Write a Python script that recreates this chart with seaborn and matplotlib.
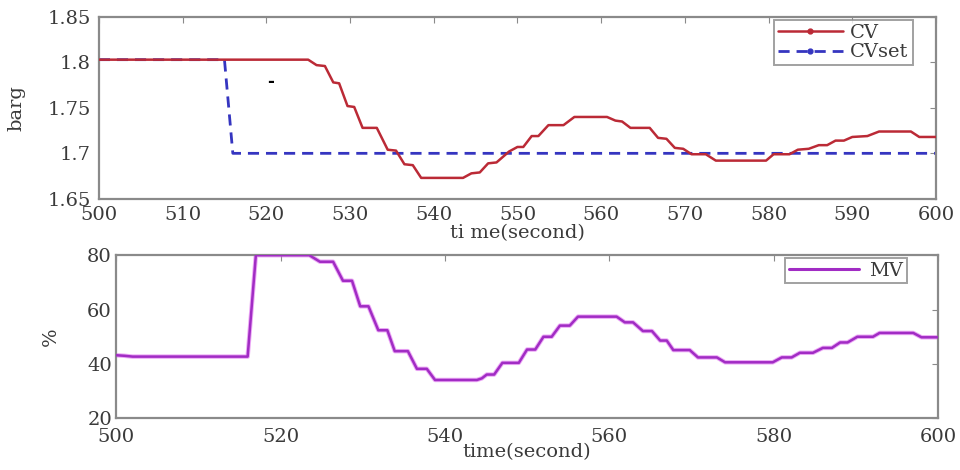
import matplotlib
matplotlib.use("Agg")
import matplotlib.pyplot as plt
import seaborn as sns
import pandas as pd
from matplotlib.lines import Line2D

# ---- data ----
cv_time = [500, 525, 526, 527, 528, 528.7, 529.7, 530.5, 531.5, 533.2, 534.5, 535.5,
           536.5, 537.5, 538.5, 543.5, 544.5, 545.5, 546.5, 547.5, 549, 550, 550.7,
           551.7, 552.5, 553.7, 555.5, 556.8, 560.7, 561.7, 562.5, 563.5, 565.8, 566.8,
           567.8, 568.8, 569.8, 570.8, 572.5, 573.7, 579.7, 580.6, 582.5, 583.5, 584.8,
           586, 587, 588, 589, 590, 591.8, 593.2, 597, 598, 600]
cv_value = [1.803, 1.803, 1.797, 1.796, 1.778, 1.777, 1.752, 1.751, 1.728, 1.728, 1.704,
            1.703, 1.688, 1.687, 1.673, 1.673, 1.678, 1.679, 1.689, 1.690, 1.702, 1.707,
            1.707, 1.719, 1.719, 1.731, 1.731, 1.740, 1.740, 1.736, 1.735, 1.728, 1.728,
            1.717, 1.716, 1.706, 1.705, 1.699, 1.699, 1.692, 1.692, 1.699, 1.699, 1.704,
            1.705, 1.709, 1.709, 1.714, 1.714, 1.718, 1.719, 1.724, 1.724, 1.718, 1.718]

sp_time = [500, 515, 516, 600]
sp_value = [1.803, 1.803, 1.700, 1.700]

mv_time = [500, 501, 502, 516, 517, 523.5, 524.8, 526.4, 527.6, 528.7, 529.7, 530.7,
           531.9, 533, 533.9, 535.5, 536.6, 537.8, 538.8, 543.9, 544.5, 545.1, 546, 547,
           549, 550, 551, 552, 553, 554, 555.2, 556.2, 560.9, 561.9, 562.9, 564.1, 565.2,
           566.2, 567, 567.8, 569.8, 570.8, 573.1, 574.1, 579.9, 581, 582.2, 583.2,
           584.8, 586, 587.1, 588.1, 589, 590.2, 592.1, 592.9, 597, 598, 600]
mv_value = [43.2, 43.0, 42.7, 42.7, 80, 80, 77.6, 77.6, 70.6, 70.6, 61.2, 61.2,
            52.4, 52.4, 44.7, 44.7, 38.2, 38.2, 34.1, 34.1, 34.7, 36.1, 36.1, 40.4,
            40.4, 45.3, 45.3, 50, 50, 54.1, 54.1, 57.4, 57.4, 55.3, 55.3, 52.1, 52.1,
            48.6, 48.6, 45.1, 45.1, 42.4, 42.4, 40.6, 40.6, 42.4, 42.4, 44.1,
            44.1, 45.9, 45.9, 47.9, 47.9, 50, 50, 51.4, 51.4, 49.8, 49.8]

top_xticks = [500, 510, 520, 530, 540, 550, 560, 570, 580, 590, 600]
top_yticks = [1.65, 1.7, 1.75, 1.8, 1.85]
top_yticklabels = ["1.65", "1.7", "1.75", "1.8", "1.85"]
bot_xticks = [500, 520, 540, 560, 580, 600]
bot_yticks = [20, 40, 60, 80]

sns.set_theme(style="white")
plt.rcParams["font.family"] = ["DejaVu Serif", "Liberation Serif"]
plt.rcParams["xtick.direction"] = "in"
plt.rcParams["ytick.direction"] = "in"

CV_C = "#bb2a36"
SP_C = "#3535c0"
MV_C = "#a12cc4"
FRAME = "#8a8a8a"
TXT = "#3a3a3a"
FS = 14

fig = plt.figure(figsize=(9.6, 4.7), dpi=100)
ax1 = fig.add_axes([0.103, 0.577, 0.872, 0.387])
ax2 = fig.add_axes([0.121, 0.11, 0.856, 0.347])

df_cv = pd.DataFrame({"t": cv_time, "v": cv_value})
df_sp = pd.DataFrame({"t": sp_time, "v": sp_value})
df_mv = pd.DataFrame({"t": mv_time, "v": mv_value})

sns.lineplot(data=df_sp, x="t", y="v", ax=ax1, color=SP_C, lw=2.0,
             linestyle=(0, (4, 2.5)), sort=False, estimator=None, zorder=2)
sns.lineplot(data=df_cv, x="t", y="v", ax=ax1, color=CV_C, lw=1.8,
             sort=False, estimator=None, zorder=3)
sns.lineplot(data=df_mv, x="t", y="v", ax=ax2, color="#e070f0", lw=3.2,
             sort=False, estimator=None, alpha=0.6, zorder=2)
sns.lineplot(data=df_mv, x="t", y="v", ax=ax2, color=MV_C, lw=1.8,
             sort=False, estimator=None, zorder=3)

ax1.text(520.5, 1.779, "-", ha="center", va="center", fontsize=12,
         color="black", fontweight="bold")

for ax in (ax1, ax2):
    for s in ax.spines.values():
        s.set_visible(True)
        s.set_color(FRAME)
        s.set_linewidth(1.6)
    ax.tick_params(axis="both", which="both", direction="in", length=4,
                   width=0.8, color=FRAME, top=True, right=True,
                   labelsize=FS, labelcolor=TXT)
    ax.set_xlim(500, 600)

ax1.tick_params(axis="x", pad=5)
ax2.tick_params(axis="x", pad=7)
ax1.tick_params(axis="y", pad=6)
ax2.tick_params(axis="y", pad=3)

ax1.set_ylim(1.65, 1.85)
ax1.set_xticks(top_xticks)
ax1.set_yticks(top_yticks)
ax1.set_yticklabels(top_yticklabels)
ax1.set_xlabel("ti me(second)", fontsize=FS, color=TXT, labelpad=0)
ax1.set_ylabel("barg", fontsize=FS, color=TXT, labelpad=16)

ax2.set_ylim(20, 80)
ax2.set_xticks(bot_xticks)
ax2.set_yticks(bot_yticks)
ax2.set_xlabel("time(second)", fontsize=FS, color=TXT, labelpad=-2)
ax2.set_ylabel("%", fontsize=FS, color=TXT, labelpad=20)

h1 = [Line2D([], [], color=CV_C, lw=1.8, marker=".", markersize=7),
      Line2D([], [], color=SP_C, lw=2.0, linestyle=(0, (4, 2.5)), marker=".", markersize=7)]
leg1 = ax1.legend(h1, ["CV", "CVset"], loc="upper right", fontsize=FS,
                  frameon=True, fancybox=False, handlelength=3.3,
                  borderpad=0.2, labelspacing=0.1, handletextpad=0.4,
                  bbox_to_anchor=(0.972, 0.985), borderaxespad=0)
leg1.get_frame().set_edgecolor(FRAME)
leg1.get_frame().set_linewidth(1.4)
for t in leg1.get_texts():
    t.set_color(TXT)

h2 = [Line2D([], [], color=MV_C, lw=2.2)]
leg2 = ax2.legend(h2, ["MV"], loc="upper right", fontsize=FS, frameon=True,
                  fancybox=False, handlelength=3.6, borderpad=0.2,
                  handletextpad=0.5, bbox_to_anchor=(0.962, 0.985), borderaxespad=0)
leg2.get_frame().set_edgecolor(FRAME)
leg2.get_frame().set_linewidth(1.4)
for t in leg2.get_texts():
    t.set_color(TXT)

fig.savefig("out.png", dpi=100, facecolor="white")
